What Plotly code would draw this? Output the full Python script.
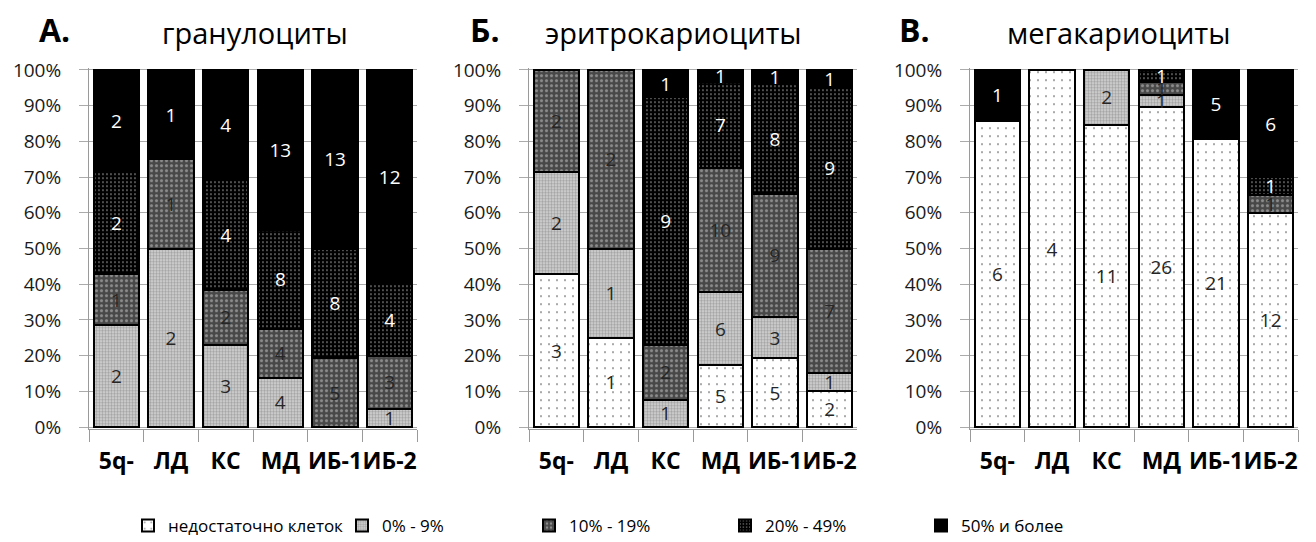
import plotly.graph_objects as go

W, H = 1316, 542

categories = ["5q-", "ЛД", "КС", "МД", "ИБ-1", "ИБ-2"]
series_names = ["недостаточно клеток", "0% - 9%", "10% - 19%", "20% - 49%", "50% и более"]

# patient counts per blast-share group, one list per series
gran_insuff = [0, 0, 0, 0, 0, 0]
gran_0_9 = [2, 2, 3, 4, 0, 1]
gran_10_19 = [1, 1, 2, 4, 5, 3]
gran_20_49 = [2, 0, 4, 8, 8, 4]
gran_50 = [2, 1, 4, 13, 13, 12]

eryth_insuff = [3, 1, 0, 5, 5, 2]
eryth_0_9 = [2, 1, 1, 6, 3, 1]
eryth_10_19 = [2, 2, 2, 10, 9, 7]
eryth_20_49 = [0, 0, 9, 7, 8, 9]
eryth_50 = [0, 0, 1, 1, 1, 1]

mega_insuff = [6, 4, 11, 26, 21, 12]
mega_0_9 = [0, 0, 2, 1, 0, 0]
mega_10_19 = [0, 0, 0, 1, 0, 1]
mega_20_49 = [0, 0, 0, 1, 0, 1]
mega_50 = [1, 0, 0, 0, 5, 6]

panel_letters = ["А.", "Б.", "В."]
panel_titles = ["гранулоциты", "эритрокариоциты", "мегакариоциты"]
y_ticks = list(range(0, 101, 10))

panels = [
    [gran_insuff, gran_0_9, gran_10_19, gran_20_49, gran_50],
    [eryth_insuff, eryth_0_9, eryth_10_19, eryth_20_49, eryth_50],
    [mega_insuff, mega_0_9, mega_10_19, mega_20_49, mega_50],
]

FONT = "Open Sans"

# fill pattern for each group (last one is solid black)
patterns = [
    dict(shape=".", fgcolor="#1a1a1a", bgcolor="white", size=8, solidity=0.05),
    dict(shape=".", fgcolor="#707070", bgcolor="#d6d6d6", size=3, solidity=0.5),
    dict(shape=".", fgcolor="#d0d0d0", bgcolor="#484848", size=5, solidity=0.3),
    dict(shape=".", fgcolor="#d8d8d8", bgcolor="#000000", size=4, solidity=0.18),
    None,
]
fill_colors = ["white", "#d6d6d6", "#484848", "#000000", "#000000"]
label_colors = ["#262626", "#262626", "#262626", "white", "white"]

# one legend box per group, each placed on its own along the bottom row
legend_ids = ["legend", "legend2", "legend3", "legend4", "legend5"]
legend_text_x = [168, 382, 569, 765, 961]

fig = go.Figure()

for p, series in enumerate(panels):
    xa = "x" if p == 0 else f"x{p + 1}"
    ya = "y" if p == 0 else f"y{p + 1}"
    for s, vals in enumerate(series):
        marker = dict(color=fill_colors[s], line=dict(color="black", width=2))
        if patterns[s] is not None:
            marker["pattern"] = patterns[s]
        fig.add_trace(go.Bar(
            x=categories,
            y=[v if v else None for v in vals],
            name=series_names[s],
            legendgroup=series_names[s],
            legend=legend_ids[s],
            showlegend=(p == 0),
            xaxis=xa, yaxis=ya,
            marker=marker,
            text=[str(v) if v else "" for v in vals],
            textposition="inside",
            insidetextanchor="middle",
            textangle=0,
            textfont=dict(family=FONT, size=19, color=label_colors[s]),
        ))

# panel geometry in pixels
x_left = [89, 529, 970]
x_right = [417, 857, 1298]
y_bot, y_top = 428.8, 68.2

layout_axes = {}
for p in range(3):
    sx = "" if p == 0 else str(p + 1)
    layout_axes[f"xaxis{sx}"] = dict(
        domain=[x_left[p] / W, x_right[p] / W],
        anchor=f"y{sx}",
        type="category",
        showline=True, linecolor="#9a9a9a", linewidth=1,
        ticks="outside", tickson="boundaries", ticklen=12, tickcolor="#9a9a9a",
        tickangle=0,
        tickfont=dict(family=FONT, size=23, color="black", weight="bold"),
        ticklabelstandoff=12,
        showgrid=False,
    )
    layout_axes[f"yaxis{sx}"] = dict(
        domain=[1 - y_bot / H, 1 - y_top / H],
        anchor=f"x{sx}",
        range=[-0.5, 100.5],
        tickvals=y_ticks,
        ticktext=[f"{t}%" for t in y_ticks],
        showgrid=True, gridcolor="#ababab", gridwidth=1,
        zeroline=False,
        showline=True, linecolor="#9a9a9a", linewidth=1,
        ticks="outside", ticklen=9, tickcolor="#ababab",
        tickfont=dict(family=FONT, size=19, color="#1a1a1a"),
        ticklabelstandoff=14,
    )

legends = {}
for i, lid in enumerate(legend_ids):
    legends[lid] = dict(
        orientation="h", x=(legend_text_x[i] - 40) / W, xanchor="left",
        y=1 - 526 / H, yanchor="middle",
        font=dict(family=FONT, size=17, color="black"),
        itemwidth=30, bgcolor="rgba(0,0,0,0)",
    )

annotations = []
letter_x = [37, 468, 897]
title_cx = [255, 673, 1118]
for p in range(3):
    annotations.append(dict(
        text=f"<b>{panel_letters[p]}</b>", x=letter_x[p] / W, y=1 - 29 / H,
        xref="paper", yref="paper", xanchor="left", yanchor="middle",
        showarrow=False, font=dict(family=FONT, size=32, color="black"),
    ))
    annotations.append(dict(
        text=panel_titles[p], x=title_cx[p] / W, y=1 - 33 / H,
        xref="paper", yref="paper", xanchor="center", yanchor="middle",
        showarrow=False, font=dict(family=FONT, size=29, color="black"),
    ))

fig.update_layout(
    width=W, height=H,
    margin=dict(l=0, r=0, t=0, b=0, autoexpand=False),
    paper_bgcolor="white", plot_bgcolor="white",
    barmode="stack", barnorm="percent", bargap=0.17,
    uniformtext=dict(minsize=19, mode="show"),
    font=dict(family=FONT, color="black"),
    annotations=annotations,
    **legends,
    **layout_axes,
)

fig.write_html("out.html")
